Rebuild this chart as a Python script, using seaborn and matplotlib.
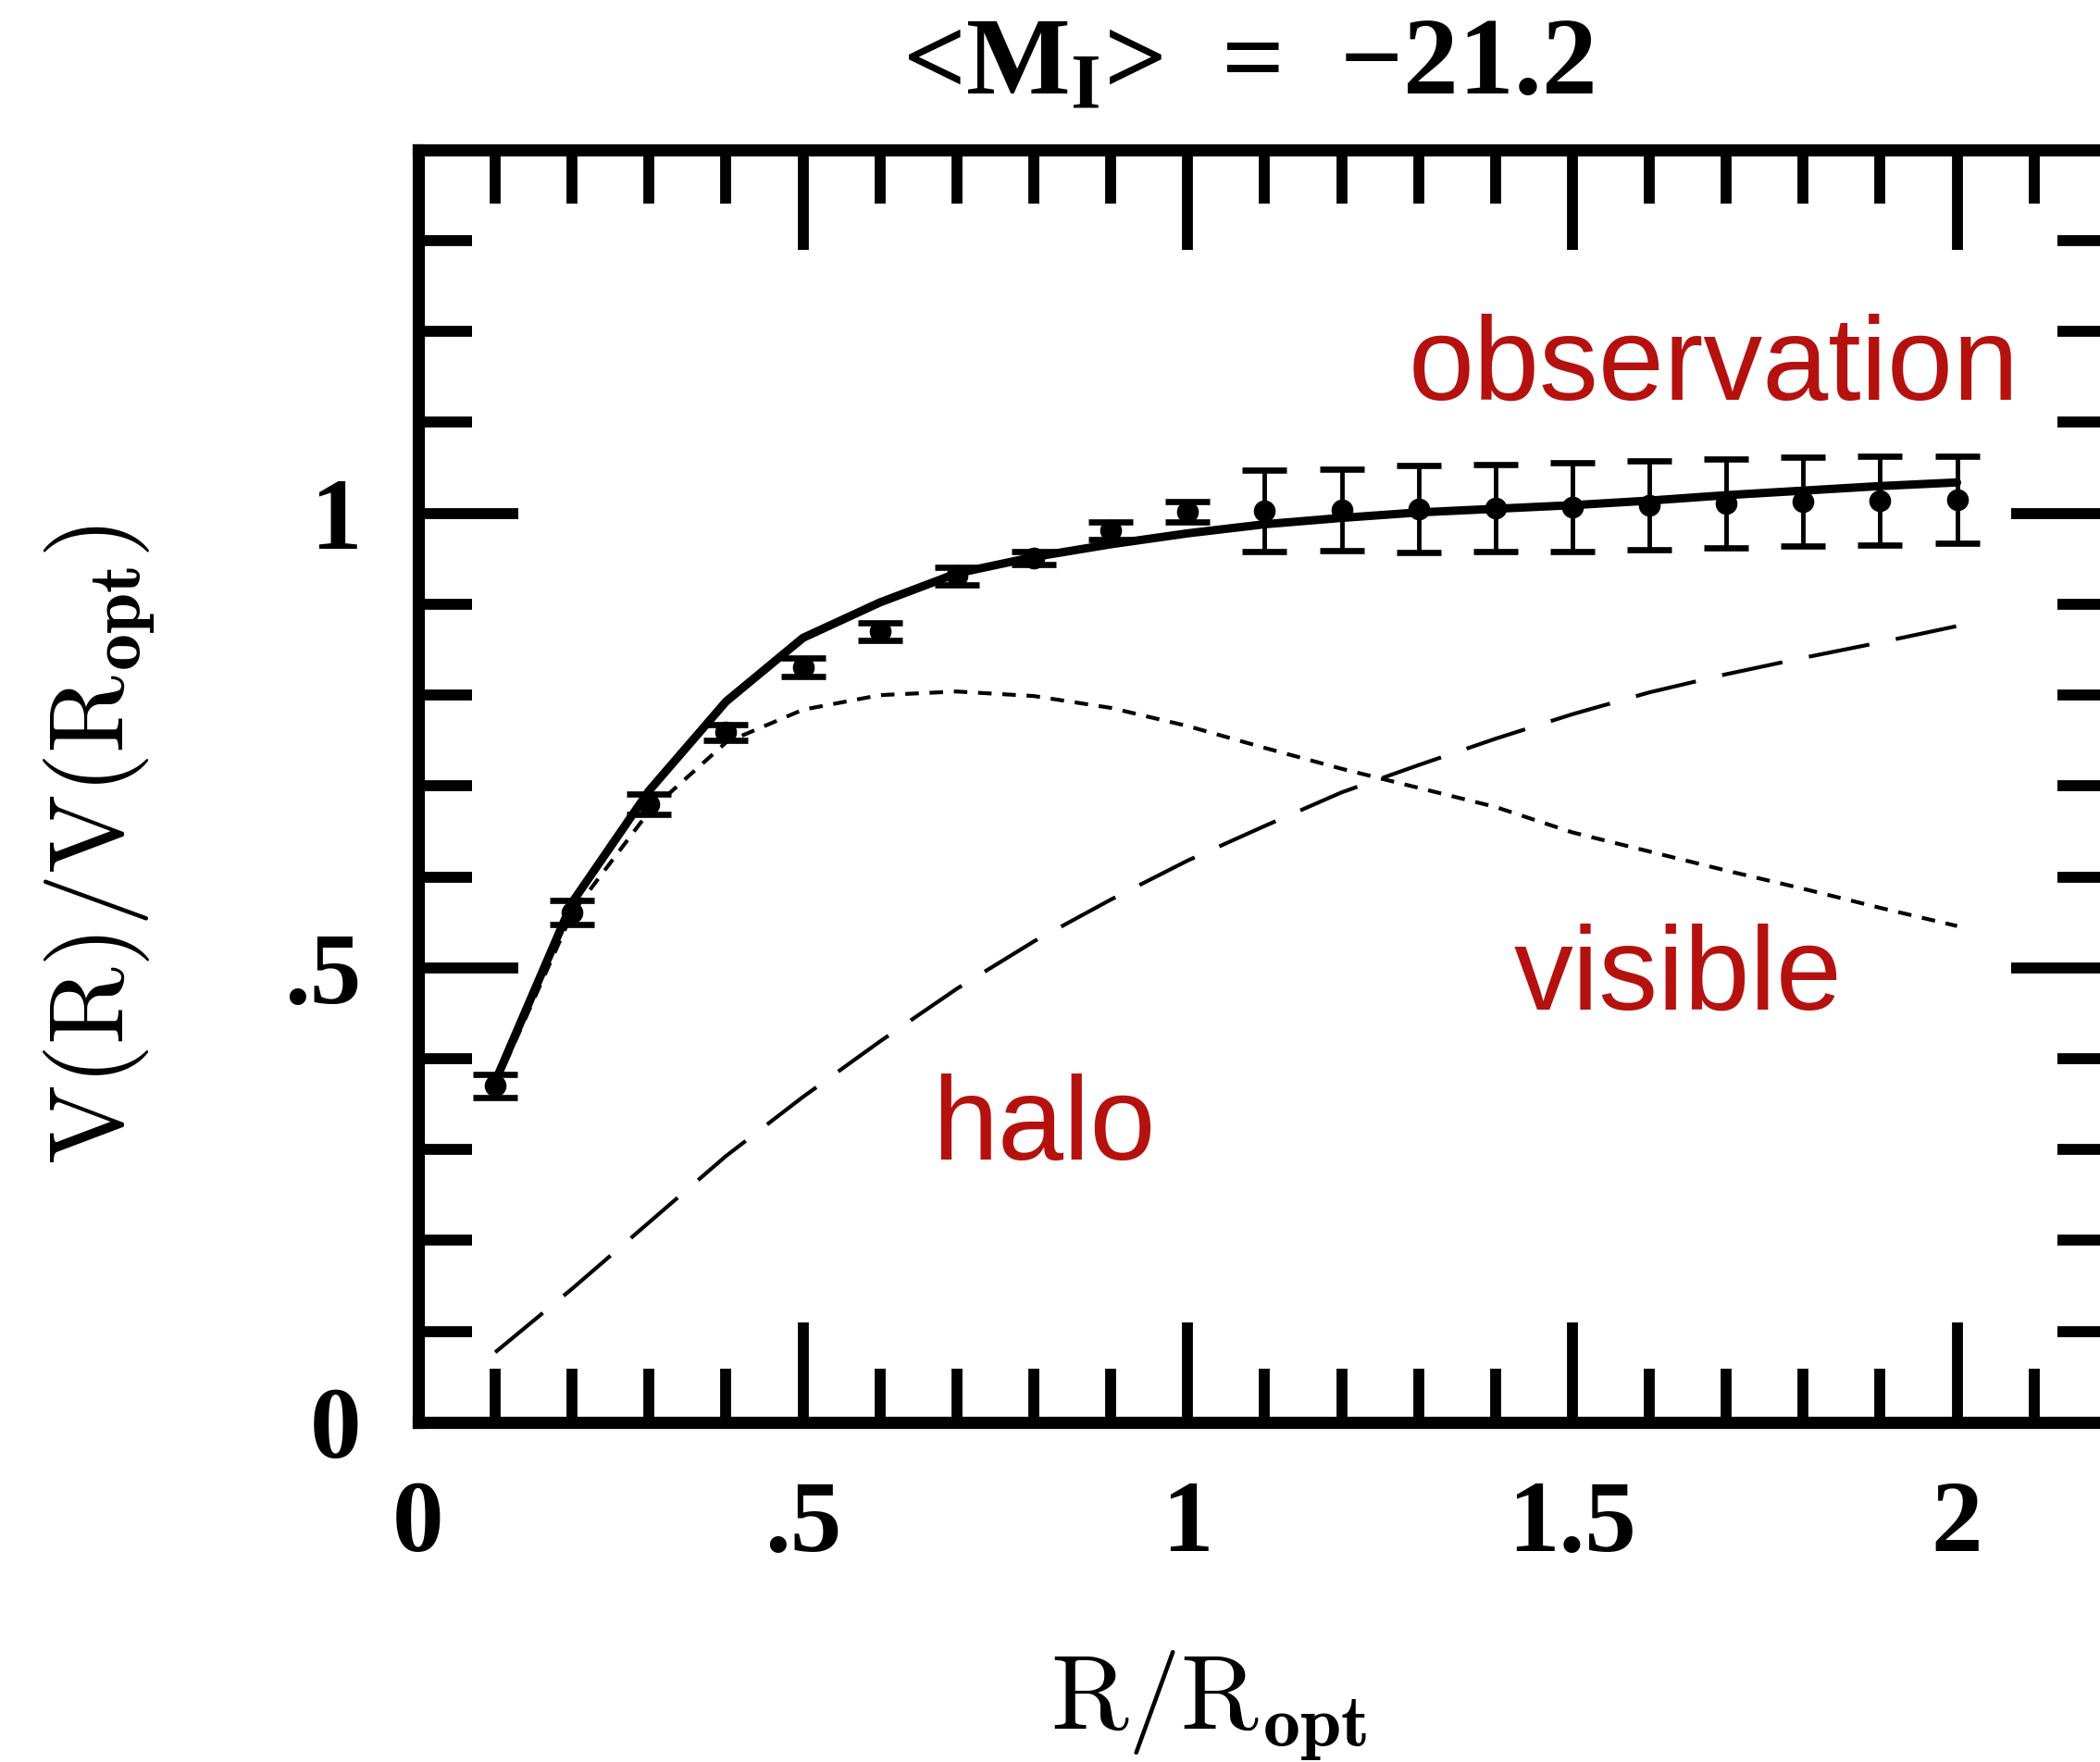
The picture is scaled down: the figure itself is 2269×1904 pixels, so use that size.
import pandas as pd
import matplotlib
matplotlib.use("Agg")
import matplotlib.pyplot as plt
import seaborn as sns
from matplotlib.ticker import MultipleLocator

# radius in units of R_opt
radius = [0.1, 0.2, 0.3, 0.4, 0.5, 0.6, 0.7, 0.8, 0.9, 1.0,
          1.1, 1.2, 1.3, 1.4, 1.5, 1.6, 1.7, 1.8, 1.9, 2.0]

# observed rotation curve + errors
obs_v = [0.370, 0.561, 0.680, 0.759, 0.831, 0.870, 0.931, 0.951, 0.981, 1.002,
         1.003, 1.004, 1.005, 1.006, 1.007, 1.009, 1.011, 1.013, 1.014, 1.015]
obs_err = [0.0125, 0.013, 0.011, 0.009, 0.010, 0.010, 0.010, 0.007, 0.010, 0.011,
           0.045, 0.045, 0.048, 0.048, 0.049, 0.049, 0.049, 0.049, 0.049, 0.048]

# model components
total_v = [0.375, 0.572, 0.695, 0.793, 0.863, 0.902, 0.934, 0.952, 0.966, 0.978,
           0.988, 0.995, 1.001, 1.005, 1.009, 1.014, 1.020, 1.025, 1.030, 1.034]
visible_v = [0.370, 0.560, 0.672, 0.748, 0.784, 0.800, 0.804, 0.799, 0.786, 0.766,
             0.742, 0.719, 0.698, 0.677, 0.649, 0.628, 0.607, 0.587, 0.566, 0.546]
halo_v = [0.077, 0.147, 0.220, 0.293, 0.358, 0.419, 0.477, 0.529, 0.575, 0.618,
          0.656, 0.693, 0.723, 0.752, 0.779, 0.803, 0.823, 0.841, 0.858, 0.876]

x_ticks = [0, 0.5, 1, 1.5, 2]
x_tick_labels = ["0", ".5", "1", "1.5", "2"]
y_ticks = [0, 0.5, 1]
y_tick_labels = ["0", ".5", "1"]

df = pd.DataFrame({"r": radius, "total": total_v, "visible": visible_v, "halo": halo_v})

sns.set_theme(style="ticks")
plt.rcParams["font.family"] = ["Liberation Serif", "DejaVu Serif"]
plt.rcParams["mathtext.rm"] = "Liberation Serif"
plt.rcParams["mathtext.bf"] = "Liberation Serif:bold"
plt.rcParams["mathtext.it"] = "Liberation Serif:italic"
plt.rcParams["text.color"] = "black"
plt.rcParams["axes.labelcolor"] = "black"
plt.rcParams["xtick.color"] = "black"
plt.rcParams["ytick.color"] = "black"

red = "#B5110E"

fig = plt.figure(figsize=(22.69, 19.04), dpi=100)
ax = fig.add_axes([0.1992, 0.1928, 0.806, 0.7222])

sns.lineplot(data=df, x="r", y="halo", ax=ax, color="black", lw=3.0,
             linestyle=(0, (16, 7)), zorder=2)
sns.lineplot(data=df, x="r", y="visible", ax=ax, color="black", lw=3.0,
             linestyle=(0, (3.5, 2.8)), zorder=2)
sns.lineplot(data=df, x="r", y="total", ax=ax, color="black", lw=6.5, zorder=3)
ax.errorbar(radius, obs_v, yerr=obs_err, fmt="o", color="black", ms=16,
            elinewidth=3.5, capsize=17, capthick=4.8, zorder=5)

ax.set_xlim(0, 2.2)
ax.set_ylim(0, 1.4)

ax.set_xticks(x_ticks)
ax.set_xticklabels(x_tick_labels, fontfamily="Liberation Serif", fontweight="bold", fontsize=80)
ax.set_yticks(y_ticks)
ax.set_yticklabels(y_tick_labels, fontfamily="Liberation Serif", fontweight="bold", fontsize=80)
ax.xaxis.set_minor_locator(MultipleLocator(0.1))
ax.yaxis.set_minor_locator(MultipleLocator(0.1))
ax.tick_params(which="both", direction="in", top=True, right=True, width=8.5, color="black")
ax.tick_params(which="major", length=78)
ax.tick_params(which="minor", length=42)
ax.tick_params(axis="x", which="major", pad=45)
ax.tick_params(axis="y", which="major", pad=44)

for sp in ax.spines.values():
    sp.set_linewidth(9.5)
    sp.set_color("black")

ax.set_xlabel(r"$\mathrm{R/R_{\mathbf{opt}}}$", fontsize=82, math_fontfamily="cm")
ax.set_ylabel(r"$\mathrm{V(R)/V(R_{\mathbf{opt}})}$", fontsize=82, math_fontfamily="cm")
ax.xaxis.set_label_coords(0.467, -0.178)
ax.yaxis.set_label_coords(-0.154, 0.4545)

ax.text(0.490, 1.0444, "<M$_{\\mathbf{I}}$>  =  \u221221.2", transform=ax.transAxes,
        ha="center", va="baseline", fontsize=86, fontweight="bold",
        fontfamily="Liberation Serif", math_fontfamily="custom")

ax.text(1.287, 1.125, "observation", color=red, fontsize=92, fontfamily="Liberation Sans",
        ha="left", va="baseline")
ax.text(1.424, 0.454, "visible", color=red, fontsize=92, fontfamily="Liberation Sans",
        ha="left", va="baseline")
ax.text(0.668, 0.289, "halo", color=red, fontsize=92, fontfamily="Liberation Sans",
        ha="left", va="baseline")

fig.savefig("out.png", dpi=100, facecolor="white")
